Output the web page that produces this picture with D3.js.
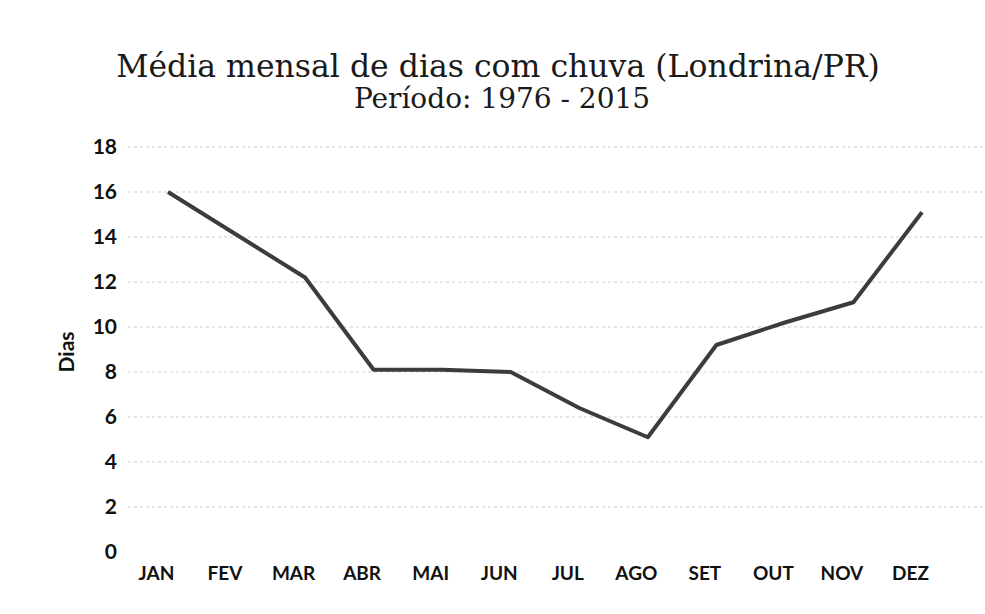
<!DOCTYPE html>
<html>
<head>
<meta charset="utf-8">
<script src="https://cdn.jsdelivr.net/npm/d3@7"></script>
<style>
  body { margin: 0; background: #fff; }
  svg { display: block; }
</style>
</head>
<body>
<svg width="985" height="614"></svg>
<script>
// months and mean rainy days
var months = ["JAN", "FEV", "MAR", "ABR", "MAI", "JUN", "JUL", "AGO", "SET", "OUT", "NOV", "DEZ"];
var dias = [16.0, 14.1, 12.2, 8.1, 8.1, 8.0, 6.4, 5.1, 9.2, 10.2, 11.1, 15.1];
var yTicks = [0, 2, 4, 6, 8, 10, 12, 14, 16, 18];

var svg = d3.select("svg");

var x = d3.scalePoint()
    .domain(months)
    .range([168, 922]);

var y = d3.scaleLinear()
    .domain([0, 18])
    .range([552, 147]);

// faint dashed gridlines
svg.append("g")
  .selectAll("line")
  .data(yTicks.filter(function(d) { return d > 0; }))
  .enter()
  .append("line")
    .attr("x1", 128)
    .attr("x2", 985)
    .attr("y1", function(d) { return y(d); })
    .attr("y2", function(d) { return y(d); })
    .attr("stroke", "#cfcfcf")
    .attr("stroke-width", 1)
    .attr("stroke-dasharray", "3,3");

// y axis labels (no axis line in the original)
var yAxis = d3.axisLeft(y).tickValues(yTicks).tickSize(0).tickPadding(0);
var gy = svg.append("g")
    .attr("transform", "translate(117,0)")
    .call(yAxis);
gy.select(".domain").remove();
gy.selectAll("text")
    .attr("font-family", "Lato, 'Open Sans', sans-serif")
    .attr("font-weight", "bold")
    .attr("font-size", 21)
    .attr("fill", "#111");

// x axis labels
var xAxis = d3.axisBottom(x).tickSize(0).tickPadding(0);
var gx = svg.append("g")
    .attr("transform", "translate(-12,566)")
    .call(xAxis);
gx.select(".domain").remove();
gx.selectAll("text")
    .attr("font-family", "Lato, 'Open Sans', sans-serif")
    .attr("font-weight", "bold")
    .attr("font-size", 19)
    .attr("fill", "#111");

// the series line
var line = d3.line()
    .x(function(d, i) { return x(months[i]); })
    .y(function(d) { return y(d); });

svg.append("path")
    .datum(dias)
    .attr("d", line)
    .attr("fill", "none")
    .attr("stroke", "#3c3c3c")
    .attr("stroke-width", 4)
    .attr("stroke-linejoin", "round");

// titles
svg.append("text")
    .attr("x", 498)
    .attr("y", 77)
    .attr("text-anchor", "middle")
    .attr("font-family", "'DejaVu Serif', serif")
    .attr("font-size", 31.5)
    .attr("fill", "#1a1a1a")
    .text("Média mensal de dias com chuva (Londrina/PR)");

svg.append("text")
    .attr("x", 502)
    .attr("y", 108)
    .attr("text-anchor", "middle")
    .attr("font-family", "'DejaVu Serif', serif")
    .attr("font-size", 28)
    .attr("fill", "#1a1a1a")
    .text("Período: 1976 - 2015");

// y axis title
svg.append("text")
    .attr("transform", "translate(74,352) rotate(-90)")
    .attr("text-anchor", "middle")
    .attr("font-family", "Lato, 'Open Sans', sans-serif")
    .attr("font-weight", "bold")
    .attr("font-size", 21)
    .attr("fill", "#111")
    .text("Dias");
</script>
</body>
</html>
